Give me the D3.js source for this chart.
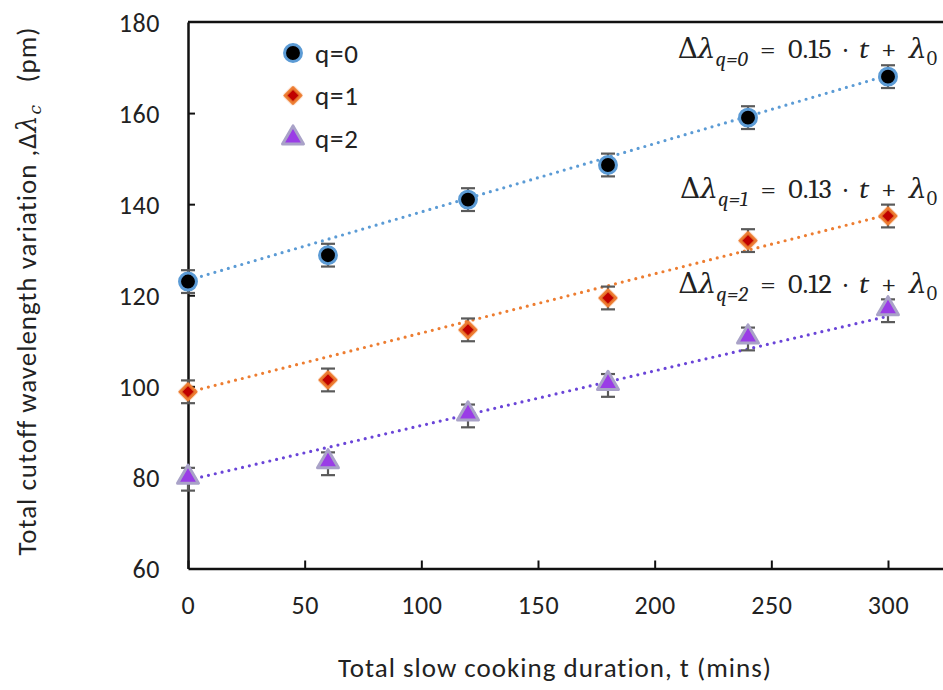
<!DOCTYPE html>
<html>
<head>
<meta charset="utf-8">
<script src="https://cdn.jsdelivr.net/npm/d3@7"></script>
<style>
  body { margin: 0; background: #fff; }
  svg { display: block; }
  text { font-family: Calibri, Carlito, "Open Sans", sans-serif; fill: #222; }
  .eq { font-family: "Cambria Math", Cambria, "DejaVu Serif", serif; }
</style>
</head>
<body>
<div id="chart"></div>
<script>
var times = [0, 60, 120, 180, 240, 300];
var seriesNames = ["q=0", "q=1", "q=2"];
var q0 = [123, 128.8, 141, 148.6, 159, 168];
var q1 = [98.8, 101.4, 112.4, 119.4, 132, 137.4];
var q2 = [79.6, 83, 93.5, 100.2, 110.4, 116.6];
var q0err = [2.5, 2.5, 2.5, 2.5, 2.5, 2.5];
var q1err = [2.5, 2.5, 2.5, 2.5, 2.5, 2.5];
var q2err = [2.5, 2.5, 2.5, 2.5, 2.5, 2.5];
var fitSlope = [0.15, 0.13, 0.12];
var fitIntercept = [123.3, 98.7, 79.4];
var fitLabels = ["0.15", "0.13", "0.12"];
var xTicks = [0, 50, 100, 150, 200, 250, 300];
var yTicks = [60, 80, 100, 120, 140, 160, 180];

var W = 943, H = 690;
var margin = {top: 22, left: 188, bottom: 121};

var x = d3.scaleLinear().domain([0, 350]).range([margin.left, margin.left + 350 * (700 / 300)]);
var y = d3.scaleLinear().domain([60, 180]).range([H - margin.bottom - 0.5, margin.top]);

var lineColor = ["#5b9bd5", "#ed7d31", "#6a45d8"];
var fillColor = ["#000000", "#c00000", "#9a3ce6"];
var edgeColor = ["#5b9bd5", "#ed7d31", "#a9a2c8"];

var svg = d3.select("#chart").append("svg")
    .attr("width", W).attr("height", H);

var defs = svg.append("defs");
defs.append("filter").attr("id", "soft")
    .attr("x", "-50%").attr("y", "-50%").attr("width", "200%").attr("height", "200%")
  .append("feGaussianBlur").attr("stdDeviation", 0.5);

var series = [q0, q1, q2].map(function(vals, i){
    var errs = [q0err, q1err, q2err][i];
    return {name: seriesNames[i], idx: i, points: times.map(function(t, j){
        return {t: t, v: vals[j], e: errs[j]};
    })};
});

// frame
var plot = svg.append("g");
plot.append("line")
    .attr("x1", x(0)).attr("x2", x(350)).attr("y1", y(180)).attr("y2", y(180))
    .attr("stroke", "#111").attr("stroke-width", 2.5);

var xAxis = plot.append("g")
    .attr("transform", "translate(0," + y(60) + ")")
    .call(d3.axisBottom(x).tickValues(xTicks).tickSize(-8).tickPadding(27).tickSizeOuter(0));
var yAxis = plot.append("g")
    .attr("transform", "translate(" + x(0) + ",0)")
    .call(d3.axisLeft(y).tickValues(yTicks).tickSize(-7).tickPadding(28).tickSizeOuter(0));

[xAxis, yAxis].forEach(function(ax){
    ax.select(".domain").attr("stroke", "#111").attr("stroke-width", 2.5);
    ax.selectAll(".tick line").attr("stroke", "#111").attr("stroke-width", 2);
    ax.selectAll(".tick text").style("font-size", "26px").attr("fill", "#222")
        .style("letter-spacing", "0.6px")
        .style("font-family", "Calibri, Carlito, 'Open Sans', sans-serif");
});
yAxis.selectAll(".tick text").attr("dy", "0.36em");
yAxis.selectAll(".tick").filter(function(d){ return d === 60 || d === 180; }).select("line").remove();

// trend lines
var fits = plot.append("g");
fitSlope.forEach(function(s, i){
    fits.append("line")
        .attr("x1", x(0)).attr("y1", y(fitIntercept[i]))
        .attr("x2", x(300)).attr("y2", y(fitIntercept[i] + s * 300))
        .attr("stroke", lineColor[i]).attr("stroke-width", 3.2)
        .attr("stroke-linecap", "round").attr("stroke-dasharray", "0 7");
});

// error bars
var groups = plot.append("g").selectAll("g")
    .data(series).enter().append("g");

var eb = groups.selectAll(".err")
    .data(function(d){ return d.points; })
    .enter().append("g").attr("class", "err").attr("stroke", "#5a5a5a").attr("stroke-width", 2.2);
eb.append("line")
    .attr("x1", function(d){ return x(d.t); }).attr("x2", function(d){ return x(d.t); })
    .attr("y1", function(d){ return y(d.v - d.e); }).attr("y2", function(d){ return y(d.v + d.e); });
eb.append("line")
    .attr("x1", function(d){ return x(d.t) - 7; }).attr("x2", function(d){ return x(d.t) + 7; })
    .attr("y1", function(d){ return y(d.v + d.e); }).attr("y2", function(d){ return y(d.v + d.e); });
eb.append("line")
    .attr("x1", function(d){ return x(d.t) - 7; }).attr("x2", function(d){ return x(d.t) + 7; })
    .attr("y1", function(d){ return y(d.v - d.e); }).attr("y2", function(d){ return y(d.v - d.e); });

// markers
var symbols = [d3.symbolCircle, d3.symbolSquare, d3.symbolTriangle];
var sizes = [225, 130, 190];
var rot = [0, 45, 0];
function marker(sel, i){
    sel.append("path")
        .attr("d", d3.symbol().type(symbols[i]).size(sizes[i]))
        .attr("transform", "rotate(" + rot[i] + ")")
        .attr("fill", fillColor[i]).attr("stroke", edgeColor[i]).attr("stroke-width", 3)
        .attr("stroke-linejoin", "round")
        .attr("filter", "url(#soft)");
}
groups.each(function(s){
    d3.select(this).selectAll(".mk")
        .data(s.points).enter().append("g").attr("class", "mk")
        .attr("transform", function(d){
            var dy = s.idx === 2 ? -2 : 0;
            return "translate(" + x(d.t) + "," + (y(d.v) + dy) + ")";
        })
        .each(function(){ marker(d3.select(this), s.idx); });
});

// legend
var legend = svg.append("g").selectAll("g")
    .data(seriesNames).enter().append("g")
    .attr("transform", function(d, i){ return "translate(293," + (53 + i * 42.5) + ")"; });
legend.each(function(d, i){ marker(d3.select(this), i); });
legend.append("text")
    .attr("x", 22).attr("dy", "0.36em")
    .style("font-size", "27px").style("letter-spacing", "0.8px")
    .text(function(d){ return d; });

// fit equations
var eqY = [58, 198, 293];
fitLabels.forEach(function(lbl, i){
    var t = svg.append("text").attr("class", "eq")
        .attr("x", 937).attr("y", eqY[i]).attr("text-anchor", "end")
        .attr("xml:space", "preserve")
        .style("font-size", "28px");
    t.append("tspan").text("Δ");
    t.append("tspan").style("font-style", "italic").text("λ");
    t.append("tspan").style("font-style", "italic").style("font-size", "21px").attr("dy", 8).text("q=" + i);
    t.append("tspan").attr("dy", -8).text("  =  " + lbl + "  ·  ");
    t.append("tspan").style("font-style", "italic").text("t");
    t.append("tspan").text("  +  ");
    t.append("tspan").style("font-style", "italic").text("λ");
    t.append("tspan").style("font-size", "20px").attr("dy", 7).text("0");
});

// axis titles
svg.append("text")
    .attr("x", 555).attr("y", 677).attr("text-anchor", "middle")
    .style("font-size", "27px").style("letter-spacing", "1px")
    .text("Total slow cooking duration, t (mins)");

var yt = svg.append("text")
    .attr("transform", "translate(36,291) rotate(-90)")
    .attr("text-anchor", "middle")
    .attr("xml:space", "preserve")
    .style("font-size", "27px").style("letter-spacing", "1px");
yt.append("tspan").text("Total cutoff wavelength variation ,Δ");
yt.append("tspan").style("font-style", "italic").style("font-family", "'DejaVu Serif', serif").text("λ");
yt.append("tspan").style("font-style", "italic").style("font-size", "17px").style("font-family", "'DejaVu Serif', serif").attr("dy", 5).text("c");
yt.append("tspan").attr("dy", -5).text("   (pm)");
</script>
</body>
</html>
